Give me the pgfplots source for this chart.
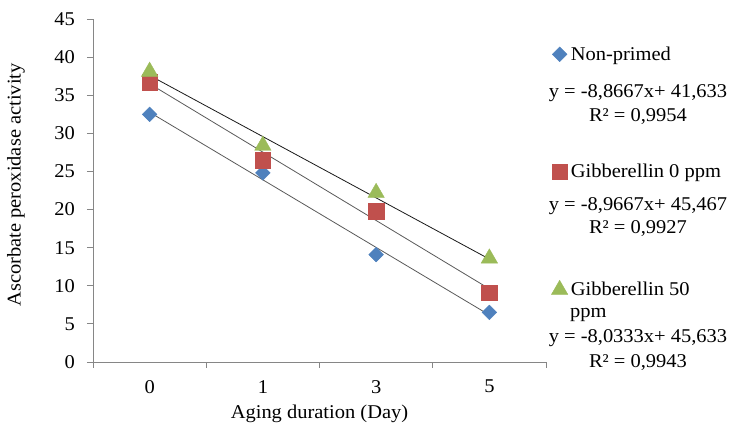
\documentclass[border=0pt]{standalone}
\usepackage{fontspec}
\setmainfont{Liberation Serif}[FakeStretch=1.05]
\usepackage{pgfplots}
\pgfplotsset{compat=1.18}

\definecolor{npblue}{HTML}{4F81BD}
\definecolor{g0red}{HTML}{C0504D}
\definecolor{g50green}{HTML}{9BBB59}
\definecolor{axgray}{HTML}{868686}

\begin{document}
\begin{tikzpicture}[x=1pt,y=1pt]
% fixed frame: origin is the lower left corner of the axis box
\useasboundingbox (-93,-63) rectangle (638,362);
\begin{axis}[
    at={(0,0)}, anchor=south west,
    scale only axis,
    width=453pt, height=343pt,
    font=\fontsize{19.5}{24}\selectfont,
    /pgf/number format/assume math mode=true,
    xmin=0.5, xmax=4.5,
    ymin=0, ymax=45,
    axis x line=bottom, axis y line=left,
    axis line style={draw=axgray, line width=0.8pt, -},
    xtick={1,2,3,4},
    xticklabels={0,1,3,5},
    major x tick style={draw=none},
    minor xtick={0.5,1.5,2.5,3.5,4.5},
    minor tick length=6pt,
    ytick={0,5,...,45},
    major tick length=6pt,
    tick align=outside,
    tick style={draw=axgray, line width=0.8pt},
    yticklabel style={anchor=east, inner sep=0pt, xshift=-12pt},
    xticklabel style={anchor=north, inner sep=0pt, yshift=-12pt},
    xlabel={Aging duration (Day)},
    ylabel={Ascorbate peroxidase activity},
    xlabel style={at={(rel axis cs:0.5,-0.166)}, anchor=base},
    ylabel style={at={(rel axis cs:-0.170,0.516)}, anchor=center},
    clip=false,
    legend image code/.code={\draw[#1] plot coordinates {(0pt,6pt)};},
    legend style={draw=none, fill=none, inner sep=0pt,
        at={(rel axis cs:1.0115,0.924)}, anchor=north west,
        row sep=97.5pt, column sep=3pt,
        nodes={inner sep=0pt, text height=15pt, text depth=5pt, anchor=base west}},
    legend cell align=left,
]
% measured activities
\addplot[only marks, mark=square*, mark size=5.2pt, color=npblue,
    mark options={rotate=45, draw=npblue, fill=npblue}]
    coordinates {(1,32.5) (2,24.8) (3,14.1) (4,6.5)};
\addlegendentry{Non-primed}
\addplot[only marks, mark=square*, mark size=7.8pt, color=g0red,
    mark options={draw=g0red, fill=g0red}]
    coordinates {(1,36.7) (2,26.5) (3,19.8) (4,9.1)};
\addlegendentry{Gibberellin 0 ppm}
\addplot[only marks, mark=triangle*, mark size=9.5pt, color=g50green,
    mark options={draw=g50green, fill=g50green}]
    coordinates {(1,38.1) (2,28.4) (3,22.2) (4,13.6)};
\addlegendentry{Gibberellin 50}
% linear trendlines
\addplot[forget plot, no marks, color=black!65, line width=0.8pt]
    coordinates {(1,32.767) (4,6.167)};
\addplot[forget plot, no marks, color=black!65, line width=0.8pt]
    coordinates {(1,36.500) (4,9.600)};
\addplot[forget plot, no marks, color=black!90, line width=0.8pt]
    coordinates {(1,37.600) (4,13.500)};
\end{axis}
\node[anchor=base west, inner sep=0pt] at (477,44) {\fontsize{19.5}{24}\selectfont ppm};
\begin{scope}[every node/.style={anchor=base, inner sep=0pt, font=\fontsize{19.5}{24}\selectfont}]
\node at (545,264) {y = -8,8667x+ 41,633};
\node at (545,240) {R² = 0,9954};
\node at (545,151) {y = -8,9667x+ 45,467};
\node at (545,128) {R² = 0,9927};
\node at (545,19) {y = -8,0333x+ 45,633};
\node at (545,-6) {R² = 0,9943};
\end{scope}
\end{tikzpicture}
\end{document}
